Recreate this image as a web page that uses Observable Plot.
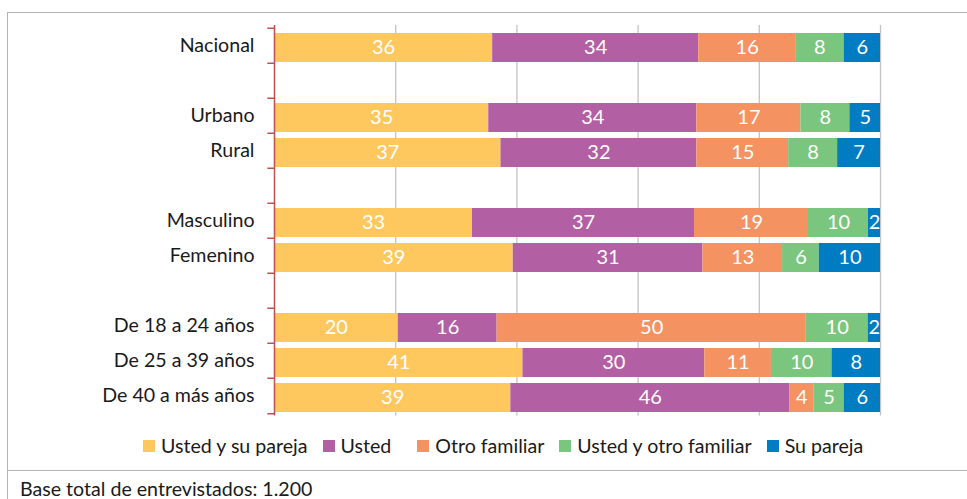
<!DOCTYPE html>
<html><head><meta charset="utf-8">
<script src="https://cdn.jsdelivr.net/npm/d3@7"></script>
<script src="https://cdn.jsdelivr.net/npm/@observablehq/plot@0.6"></script>
<style>
body{margin:0;background:#fff;font-family:Lato,sans-serif;color:#1a1a1a;}
#wrap{position:relative;width:967px;height:499px;overflow:hidden;}
#frame{position:absolute;left:7px;top:12px;width:1000px;height:600px;border:1.5px solid #b4b4b4;box-sizing:border-box;}
#sep{position:absolute;left:7px;top:470px;width:1000px;height:0;border-top:1.5px solid #b4b4b4;}
#chart{position:absolute;left:0;top:0;}
#legend{position:absolute;top:434px;left:143px;display:flex;align-items:center;font-size:19.6px;white-space:nowrap;}
#legend .item{display:flex;align-items:center;margin-right:15px;}
#legend .sw{width:12px;height:12px;margin-right:6px;display:inline-block;}
#caption{position:absolute;left:20px;top:477px;font-size:19.6px;white-space:nowrap;}
</style></head>
<body>
<div id="wrap">
  <div id="frame"></div>
  <div id="sep"></div>
  <div id="chart"></div>
  <div id="legend"></div>
  <div id="caption">Base total de entrevistados: 1.200</div>
</div>
<script>
const categories = ["Nacional","_1","Urbano","Rural","_2","Masculino","Femenino","_3","De 18 a 24 años","De 25 a 39 años","De 40 a más años"];
const groups = ["Nacional","Urbano","Rural","Masculino","Femenino","De 18 a 24 años","De 25 a 39 años","De 40 a más años"];
const series = ["Usted y su pareja","Usted","Otro familiar","Usted y otro familiar","Su pareja"];
const colors = ["#FFC85E","#B35FA3","#F59262","#7BC67E","#007CC3"];
const ustedYSuPareja   = [36,35,37,33,39,20,41,39];
const usted            = [34,34,32,37,31,16,30,46];
const otroFamiliar     = [16,17,15,19,13,50,11,4];
const ustedYOtroFam    = [8,8,8,10,6,10,10,5];
const suPareja         = [6,5,7,2,10,2,8,6];
const gridTicks = [0.2,0.4,0.6,0.8,1];

const seriesValues = [ustedYSuPareja, usted, otroFamiliar, ustedYOtroFam, suPareja];
const rows = [];
groups.forEach((g, i) => series.forEach((s, j) => rows.push({cat: g, series: s, value: seriesValues[j][i]})));

const W = 967, H = 420, plotTop = 25, plotBottom = 415.5;
const step = (plotBottom - plotTop) / categories.length;
const lastCat = [categories[categories.length - 1]];

const chart = Plot.plot({
  width: W, height: H,
  marginLeft: 274, marginRight: 87, marginTop: plotTop, marginBottom: H - plotBottom,
  style: {fontFamily: "Lato, sans-serif", fontSize: "19.6px", color: "#1a1a1a", background: "transparent", overflow: "visible"},
  x: {domain: [0, 1], axis: null},
  y: {domain: categories, paddingInner: 0.16, paddingOuter: 0.08, axis: null},
  color: {domain: series, range: colors},
  marks: [
    Plot.ruleX(gridTicks, {stroke: "#c3c3c3", strokeWidth: 1.3}),
    Plot.barX(rows, Plot.stackX({offset: "normalize", x: "value", y: "cat", z: "series", fill: "series", dy: 2})),
    Plot.text(rows, Plot.stackX({offset: "normalize", x: "value", y: "cat", z: "series", text: "value", fill: "white", fontSize: 20, dy: 2})),
    Plot.ruleX([0], {stroke: "#C0504D", strokeWidth: 1.5}),
    Plot.ruleY(categories, {y: d => d, x1: -0.011, x2: 0, dy: -step / 2, stroke: "#C0504D", strokeWidth: 1.5, clip: false}),
    Plot.ruleY(lastCat, {y: d => d, x1: -0.011, x2: 0, dy: step / 2, stroke: "#C0504D", strokeWidth: 1.5, clip: false}),
    Plot.text(groups, {y: d => d, x: 0, dx: -20, textAnchor: "end", fill: "#1a1a1a", fontSize: 19.6})
  ]
});
document.getElementById("chart").appendChild(chart);

const legend = document.getElementById("legend");
series.forEach((s, i) => {
  const it = document.createElement("div");
  it.className = "item";
  if (s === "Usted") it.style.marginRight = "26px";
  const sw = document.createElement("span");
  sw.className = "sw";
  sw.style.background = colors[i];
  const t = document.createElement("span");
  t.textContent = s;
  it.appendChild(sw); it.appendChild(t);
  legend.appendChild(it);
});
</script>
</body></html>
